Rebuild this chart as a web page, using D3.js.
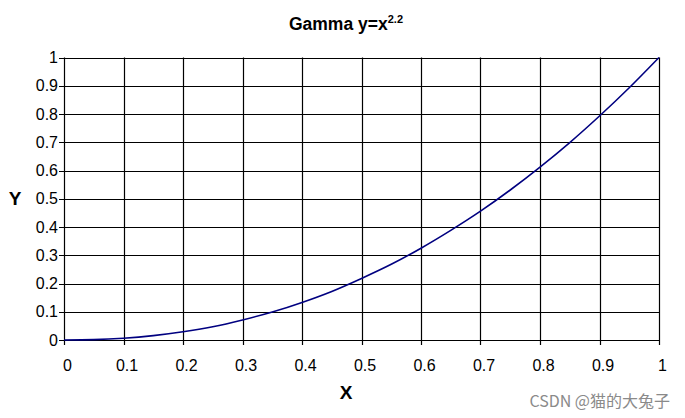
<!DOCTYPE html>
<html>
<head>
<meta charset="utf-8">
<script src="https://cdn.jsdelivr.net/npm/d3@7"></script>
<style>
  body { margin: 0; background: #fff; }
  svg { display: block; font-family: "Liberation Sans", Arial, sans-serif; }
</style>
</head>
<body>
<script>
let width = 685
let height = 418

// values
const xs = [0, 0.05, 0.1, 0.15, 0.2, 0.25, 0.3, 0.35, 0.4, 0.45, 0.5, 0.55, 0.6, 0.65, 0.7, 0.75, 0.8, 0.85, 0.9, 0.95, 1]
const ys = [0, 0.0014, 0.0063, 0.0154, 0.029, 0.047, 0.071, 0.099, 0.133, 0.172, 0.218, 0.268, 0.325, 0.388, 0.456, 0.531, 0.612, 0.699, 0.793, 0.893, 1]
const xTicks = [0, 0.1, 0.2, 0.3, 0.4, 0.5, 0.6, 0.7, 0.8, 0.9, 1]
const yTicks = [0, 0.1, 0.2, 0.3, 0.4, 0.5, 0.6, 0.7, 0.8, 0.9, 1]

let margin = { left: 64, right: 26, top: 57.5, bottom: 78 }

let svg = d3.select('body')
  .append('svg')
  .attr('width', width)
  .attr('height', height)

let x = d3.scaleLinear().domain([0, 1]).range([margin.left, width - margin.right])
let y = d3.scaleLinear().domain([0, 1]).range([height - margin.bottom, margin.top])

// gridlines
svg.append('g')
  .selectAll('line.h')
  .data(yTicks)
  .enter()
  .append('line')
  .attr('x1', x(0) - 5)
  .attr('x2', x(1))
  .attr('y1', d => Math.round(y(d)) + 0.5)
  .attr('y2', d => Math.round(y(d)) + 0.5)
  .attr('stroke', '#000')
  .attr('stroke-width', 1.2)

svg.append('g')
  .selectAll('line.v')
  .data(xTicks)
  .enter()
  .append('line')
  .attr('x1', d => Math.round(x(d)) + 0.5)
  .attr('x2', d => Math.round(x(d)) + 0.5)
  .attr('y1', y(1))
  .attr('y2', y(0) + 5)
  .attr('stroke', '#000')
  .attr('stroke-width', 1.2)

// tick labels
svg.append('g')
  .selectAll('text')
  .data(yTicks)
  .enter()
  .append('text')
  .attr('x', x(0) - 6)
  .attr('y', d => y(d) + 5.5)
  .attr('text-anchor', 'end')
  .attr('font-size', 16)
  .text(d => d)

svg.append('g')
  .selectAll('text')
  .data(xTicks)
  .enter()
  .append('text')
  .attr('x', d => x(d) + 3.5)
  .attr('y', y(0) + 30.5)
  .attr('text-anchor', 'middle')
  .attr('font-size', 16)
  .text(d => d)

// curve
let line = d3.line()
  .x((d, i) => x(xs[i]))
  .y(d => y(d))
  .curve(d3.curveMonotoneX)

svg.append('path')
  .attr('d', line(ys))
  .attr('fill', 'none')
  .attr('stroke', '#000080')
  .attr('stroke-width', 1.6)

// title
let title = svg.append('text')
  .attr('x', 346)
  .attr('y', 30)
  .attr('text-anchor', 'middle')
  .attr('font-size', 17.5)
  .attr('font-weight', 'bold')
title.append('tspan').text('Gamma y=x')
title.append('tspan')
  .attr('font-size', 11)
  .attr('dy', -7.5)
  .text('2.2')

// axis titles
svg.append('text')
  .attr('x', 346)
  .attr('y', 399)
  .attr('text-anchor', 'middle')
  .attr('font-size', 19)
  .attr('font-weight', 'bold')
  .text('X')

svg.append('text')
  .attr('x', 15)
  .attr('y', 205)
  .attr('text-anchor', 'middle')
  .attr('font-size', 19)
  .attr('font-weight', 'bold')
  .text('Y')

// watermark
svg.append('text')
  .attr('x', 670)
  .attr('y', 407)
  .attr('text-anchor', 'end')
  .attr('font-size', 16)
  .attr('fill', '#8a8a8a')
  .attr('font-family', '"Noto Sans CJK SC", "Liberation Sans", sans-serif')
  .text('CSDN @猫的大兔子')
</script>
</body>
</html>
